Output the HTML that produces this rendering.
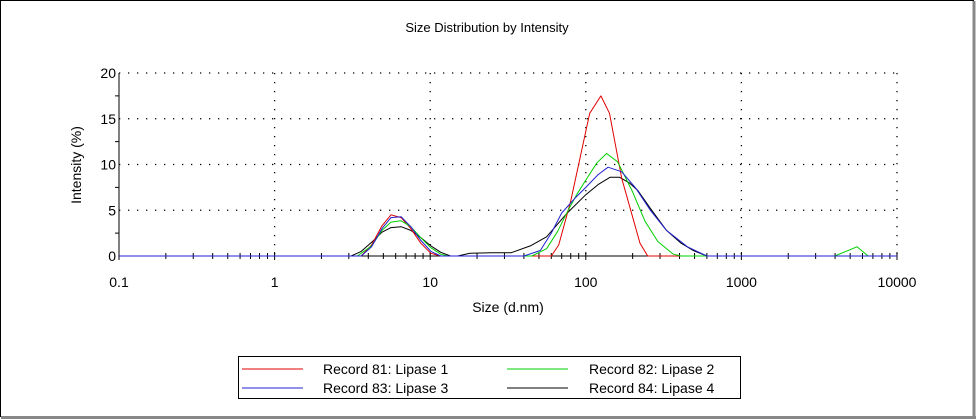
<!DOCTYPE html>
<html><head><meta charset="utf-8">
<style>
html,body{margin:0;padding:0;background:#fff;}
svg{display:block;font-family:"Liberation Sans",Arial,sans-serif;}
</style></head>
<body>
<svg id="chart" width="976" height="420" viewBox="0 0 976 420" xmlns="http://www.w3.org/2000/svg">
  <rect x="0.5" y="0.5" width="973" height="416" fill="#fff" stroke="#000" stroke-width="1"/>
  <line x1="974" y1="1" x2="974" y2="418" stroke="#888" stroke-width="3"/>
  <line x1="1" y1="417.5" x2="976" y2="417.5" stroke="#888" stroke-width="3"/>
  <text x="487" y="32" font-size="13" text-anchor="middle" fill="#000">Size Distribution by Intensity</text>
  <text transform="translate(81,165) rotate(-90)" font-size="14" text-anchor="middle" fill="#000">Intensity (%)</text>
  <text x="508" y="312" font-size="14" text-anchor="middle" fill="#000">Size (d.nm)</text>
  <g id="grid"></g>
  <g id="axes"></g>
  <g id="series"></g>
  <g>
    <rect x="238.5" y="356.5" width="502" height="42" fill="#fff" stroke="#000" stroke-width="1"/>
    <g>
      <line x1="242" y1="369" x2="303" y2="369" stroke="#e00000" stroke-width="1"/>
      <text x="323" y="374" font-size="14">Record 81: Lipase 1</text>
    </g>
    <g>
      <line x1="507" y1="369" x2="568" y2="369" stroke="#00d000" stroke-width="1"/>
      <text x="589" y="374" font-size="14">Record 82: Lipase 2</text>
    </g>
    <g>
      <line x1="242" y1="388" x2="303" y2="388" stroke="#2020d0" stroke-width="1"/>
      <text x="323" y="393" font-size="14">Record 83: Lipase 3</text>
    </g>
    <g>
      <line x1="507" y1="388" x2="568" y2="388" stroke="#000" stroke-width="1"/>
      <text x="589" y="393" font-size="14">Record 84: Lipase 4</text>
    </g>
  </g>
</svg>
<script>
const xTickValues = [0.1, 1, 10, 100, 1000, 10000];
const xTickLabels = ["0.1", "1", "10", "100", "1000", "10000"];
const yTickValues = [0, 5, 10, 15, 20];
const yTickLabels = ["0", "5", "10", "15", "20"];

const redSizes = [3.6,4.2,4.9,5.6,6.5,7.5,8.7,10.1,11.7,60,67,80,106,125,142,170,223,250];
const redValues = [0,1.2,3.3,4.5,4.2,3.0,1.4,0.3,0,0,1.2,6,15.6,17.5,15.6,8.5,1.4,0];
const greenSizes = [3.4,4.2,4.9,5.6,6.5,7.5,8.7,10.1,11.7,13,45,56,66,77,88,100,118,136,160,200,240,290,365,410,3980,5530,6520];
const greenValues = [0,1.1,2.8,3.7,3.85,3.2,2.0,0.9,0.2,0,0,0.8,2.7,5,6.8,8.3,10.2,11.2,10.3,7.0,3.8,1.6,0.2,0,0,1.0,0];
const blueSizes = [3.6,4.2,4.9,5.6,6.5,7.5,8.7,10.1,11.7,40,51,60,70,85,100,120,139,170,210,260,330,450,600];
const blueValues = [0,1.0,3.0,4.2,4.3,3.2,1.7,0.5,0,0,0.6,2.5,4.7,6.3,7.5,8.9,9.7,9.2,7.4,5.0,2.8,1.0,0];
const blackSizes = [3.1,3.6,4.2,4.9,5.6,6.5,7.5,8.7,10.1,11.7,13.5,15,18,25,33,44,56,75,100,120,143,165,190,215,260,330,410,490,600];
const blackValues = [0,0.5,1.5,2.6,3.1,3.2,2.8,2.0,1.1,0.4,0,0,0.3,0.35,0.35,1.1,2.1,4.6,6.7,7.8,8.6,8.6,8.0,7.2,5.2,2.8,1.4,0.6,0];

const X0 = 119, DEC = 155.6, Y0 = 256, YS = 9.15;
function xScale(v){ return X0 + (Math.log10(v) + 1) * DEC; }
function yScale(v){ return Y0 - v * YS; }
const NS = "http://www.w3.org/2000/svg";
function mk(tag, attrs, parent){ const e = document.createElementNS(NS, tag); for (const k in attrs) e.setAttribute(k, attrs[k]); parent.appendChild(e); return e; }

const grid = document.getElementById('grid');
const axes = document.getElementById('axes');
yTickValues.forEach(function(v){
  if (v === 0) return;
  const l = mk('line', {x1: X0, x2: xScale(10000), y1: yScale(v), y2: yScale(v), stroke: '#000', 'stroke-width': 1.3, 'stroke-dasharray': '1.3 7.7'}, grid);
  
  
});
xTickValues.forEach(function(v){
  if (v === 0.1) return;
  const l = mk('line', {x1: xScale(v), x2: xScale(v), y1: yScale(20), y2: Y0, stroke: '#000', 'stroke-width': 1.3, 'stroke-dasharray': '1.3 7.7'}, grid);
  
  
});
const ya = mk('line', {x1: X0, x2: X0, y1: yScale(20), y2: Y0, stroke: '#000', 'stroke-width': 1}, axes);


const xa = mk('line', {x1: X0, x2: xScale(10000), y1: Y0, y2: Y0, stroke: '#000', 'stroke-width': 1}, axes);


yTickValues.forEach(function(v, i){
  const t = mk('text', {x: X0 - 3, y: yScale(v) + 5, 'font-size': 14, 'text-anchor': 'end'}, axes);
  t.textContent = yTickLabels[i];
  
  
});
for (let v = 2.5; v < 20; v += 5) {
  const m = mk('line', {x1: X0 - 4, x2: X0, y1: yScale(v), y2: yScale(v), stroke: '#000'}, axes);
  
  
}
xTickValues.forEach(function(v, i){
  const t = mk('text', {x: xScale(v), y: 287, 'font-size': 14, 'text-anchor': 'middle'}, axes);
  t.textContent = xTickLabels[i];
  
  
  if (v < 10000) {
    for (let k = 2; k <= 9; k++) {
      const xx = xScale(v * k);
      const m = mk('line', {x1: xx, x2: xx, y1: Y0 - 3, y2: Y0 + 3, stroke: '#000'}, axes);
      
      
    }
  }
  const mj = mk('line', {x1: xScale(v), x2: xScale(v), y1: Y0 - 4, y2: Y0 + 4, stroke: '#000'}, axes);
  
  
});
const seriesG = document.getElementById('series');
function drawSeries(sizes, values, color, name){
  let pts = [[0.1, 0]];
  sizes.forEach(function(s, i){ pts.push([s, values[i]]); });
  pts.push([10000, 0]);
  pts.sort(function(a, b){ return a[0] - b[0]; });
  const p = mk('polyline', {points: pts.map(function(q){ return xScale(q[0]).toFixed(1) + ',' + yScale(q[1]).toFixed(1); }).join(' '), fill: 'none', stroke: color, 'stroke-width': 1, 'stroke-linejoin': 'round'}, seriesG);
  
  
}
drawSeries(blackSizes, blackValues, '#000000', 'series-lipase-4');
drawSeries(redSizes, redValues, '#e00000', 'series-lipase-1');
drawSeries(greenSizes, greenValues, '#00d000', 'series-lipase-2');
drawSeries(blueSizes, blueValues, '#2020d0', 'series-lipase-3');
</script>
</body></html>
